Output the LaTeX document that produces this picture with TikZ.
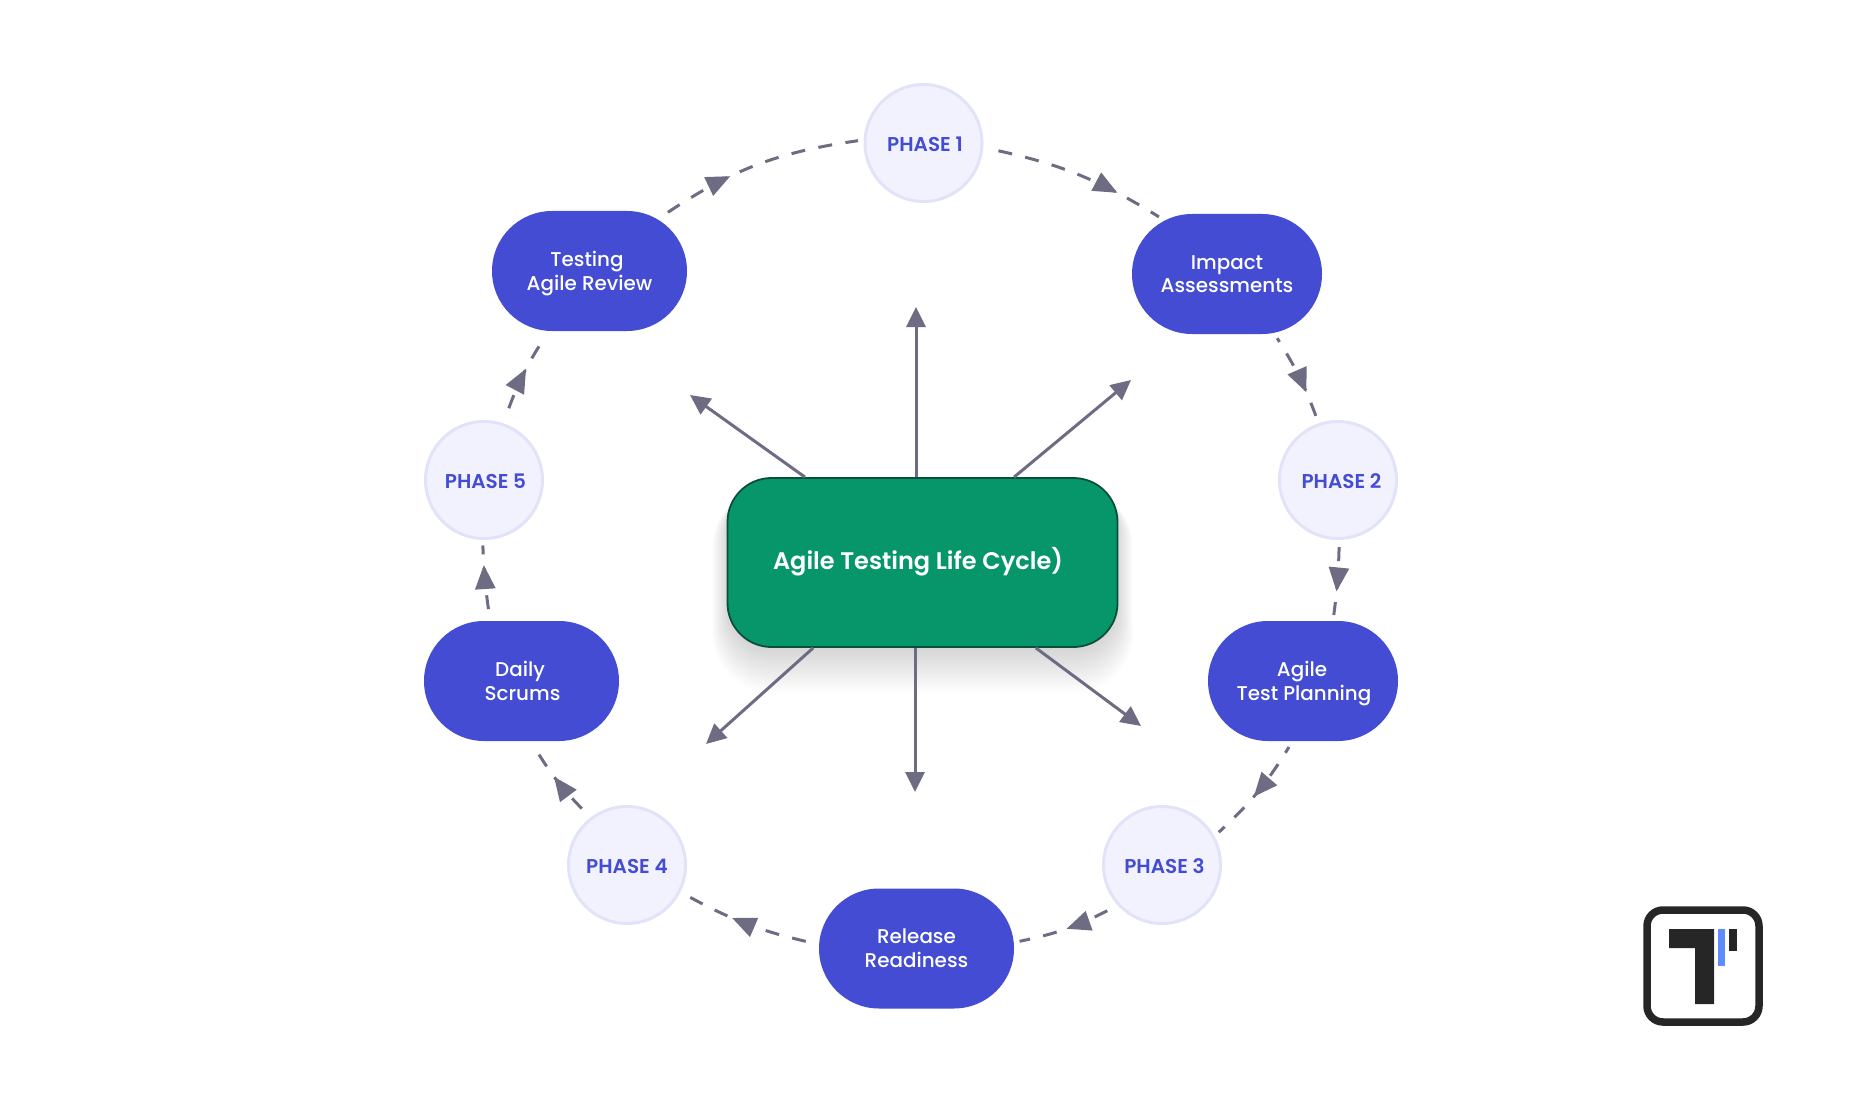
\documentclass[tikz,border=0pt]{standalone}
\usepackage{fontspec}
\setmainfont{Poppins}
\newfontfamily\popmed{Poppins Medium}
\newfontfamily\popsemi{Poppins SemiBold}
\usetikzlibrary{arrows.meta,shapes.misc,decorations.markings}
\definecolor{ink}{HTML}{6E6C82}
\definecolor{pillblue}{HTML}{434CD2}
\definecolor{phasefill}{HTML}{F2F2FE}
\definecolor{phaseline}{HTML}{E1E3F8}
\definecolor{hubgreen}{HTML}{069669}
\definecolor{hubline}{HTML}{0B4F3B}
\definecolor{logoink}{HTML}{262626}
\definecolor{logoblue}{HTML}{5F8BFF}
\newcommand{\nodepth}[1]{\raisebox{0pt}[\height][0pt]{#1}}
\tikzset{
  x=1pt,y=-1pt,
  phasenode/.style={circle,minimum size=117pt,inner sep=0pt,fill=phasefill,draw=phaseline,line width=3pt,text=pillblue,
    font=\popsemi\fontsize{20}{24}\selectfont,outer sep=7pt,text height=17pt,text depth=0pt},
  pillnode/.style={rounded rectangle,minimum width=190pt,minimum height=120pt,inner sep=0pt,fill=pillblue,text=white,align=center,
    font=\popmed\fontsize{19.9}{23.6}\selectfont,outer sep=6pt},
  widepill/.style={pillnode,minimum width=195pt},
  hubnode/.style={rounded corners=44pt,rectangle,minimum width=390pt,minimum height=169pt,fill=hubgreen,draw=hubline,line width=1.8pt,
    inner sep=0pt},
  hublabel/.style={text=white,font=\popsemi\fontsize{24}{28}\selectfont},
  ringlink/.style={draw=ink,line width=3pt,dash pattern=on 14pt off 13.5pt,bend left=#1,
    postaction={decorate}},
  ringlink/.default=11,
  midhead/.style={decoration={markings,mark=at position #1 with {\arrow{Triangle[length=24pt,width=20pt]}}}},
  spoke/.style={draw=ink,line width=3pt,-{Triangle[length=20pt,width=19pt]}},
}
\begin{document}
\begin{tikzpicture}
\useasboundingbox (0,0) rectangle (1855,1094);
% soft shadow of the hub
\foreach \g in {0,2,...,38}{
  \fill[black,opacity=0.006,rounded corners={44pt+\g*0.4pt}]
    ({727.5-\g*0.4},{478+10}) rectangle ({1118+\g*0.4},{647+4+\g*1.1});
}
% spoke tips
\coordinate (tipN) at (916,307);
\coordinate (tipNE) at (1131,380);
\coordinate (tipNW) at (690,395);
\coordinate (tipSW) at (706,744);
\coordinate (tipS) at (915,792);
\coordinate (tipSE) at (1141,726);
% nodes
\node[hubnode] (hub) at (922.5,562.5) {};
\node[hublabel] (hubtext) at (918,562) {Agile Testing Life Cycle)};
\node[phasenode] (p1) at (923.5,143) {\hspace*{3pt}PHASE 1};
\node[phasenode] (p2) at (1338,480) {\hspace*{7pt}PHASE 2};
\node[phasenode] (p3) at (1162,865) {\hspace*{5pt}PHASE 3};
\node[phasenode] (p4) at (627,865) {PHASE 4};
\node[phasenode] (p5) at (484,480) {\hspace*{3pt}PHASE 5};
\node[pillnode] (imp) at (1227,274) {Impact\\Assessments};
\node[pillnode] (plan) at (1303,681) {Agile\hspace*{2pt}\\\nodepth{\hspace*{2pt}Test Planning}};
\node[widepill] (rel) at (916.5,948.5) {Release\\Readiness};
\node[widepill] (daily) at (521.5,681) {Daily\hspace*{3pt}\\\hspace*{2pt}Scrums};
\node[widepill] (test) at (589.5,271) {Testing\hspace*{5pt}\\\nodepth{Agile Review}};
% ring connectors
\path[ringlink=10,midhead=0.74,dash phase=17.6pt] (p1.-5) to (imp.140);
\path[ringlink=6,midhead=0.69,dash phase=9.6pt] (imp.-52) to (p2.109);
\path[ringlink=3,midhead=0.66,dash phase=25.8pt] (p2.-89) to (plan.65);
\path[ringlink=8,midhead=0.55,dash phase=7.2pt] (plan.-102) to (p3.30);
\path[ringlink=8,midhead=0.51,dash phase=21.5pt] (p3.-139) to (rel.4);
\path[ringlink=8,midhead=0.62,dash phase=19.8pt] (rel.177) to (p4.-27);
\path[ringlink=7,midhead=0.58,dash phase=20.6pt] (p4.128) to (daily.-79);
\path[ringlink=3,midhead=0.72,dash phase=21.6pt] (daily.116) to (p5.-91);
\path[ringlink=7,midhead=0.59,dash phase=17.1pt] (p5.71) to (test.-124);
\path[ringlink=13,midhead=0.37,dash phase=21.5pt] (test.37) to (p1.178);
% spokes
\draw[spoke] (hub.north -| tipN) -- (tipN);
\draw[spoke] (hub.43) -- (tipNE);
\draw[spoke] (hub.144.3) -- (tipNW);
\draw[spoke] (hub.218.4) -- (tipSW);
\draw[spoke] (hub.south -| tipS) -- (tipS);
\draw[spoke] (hub.-37.2) -- (tipSE);
% logo
\draw[draw=logoink,line width=7.5pt,rounded corners=16pt] (1647,910) rectangle (1759,1022);
\fill[logoink] (1669,929) -- (1714,929) -- (1714,1004) -- (1695,1004) -- (1695,948) -- (1669,948) -- cycle;
\fill[logoblue] (1718,929) rectangle (1725,966);
\fill[logoink] (1729,929) rectangle (1737,951);
\end{tikzpicture}
\end{document}
